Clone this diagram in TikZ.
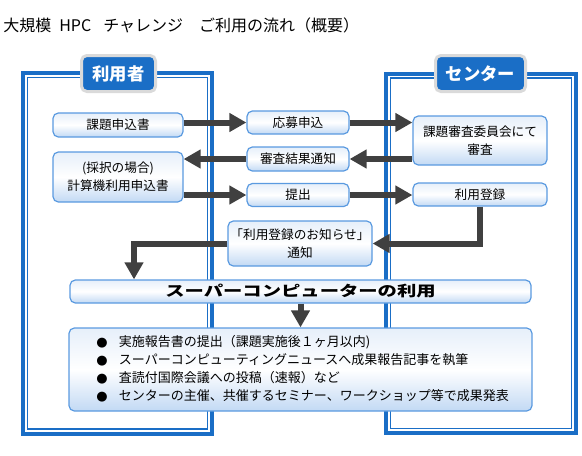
\documentclass[tikz,border=0pt]{standalone}
\usepackage{fontspec}
\usepackage{graphicx}
\setmainfont{Noto Sans CJK JP}
\newfontfamily\dejavu{DejaVu Sans}
\usetikzlibrary{arrows.meta,shadows,calc}
\definecolor{frameblue}{HTML}{1A6EC6}
\definecolor{boxline}{HTML}{5A9AE0}
\definecolor{boxlight}{HTML}{E6EFFA}
\definecolor{boxdark}{HTML}{C2D9F4}
\definecolor{arrowgray}{HTML}{404040}
\definecolor{labborder}{HTML}{DADADA}
\begin{document}
\begin{tikzpicture}[x=0.75pt,y=-0.75pt,
  fbox/.style={draw=boxline, line width=0.9pt, rounded corners=4pt,
    top color=boxlight, bottom color=boxdark, middle color=white,
    inner sep=0pt, align=center, text=black,
    font=\fontsize{9.5pt}{13.5pt}\selectfont},
  labbox/.style={draw=labborder, line width=2.25pt, fill=frameblue, rounded corners=4pt,
    text=white, inner sep=0pt, minimum height=27pt,
    font=\bfseries\fontsize{13pt}{15pt}\selectfont,
    drop shadow={shadow xshift=0.8pt, shadow yshift=-0.8pt, opacity=0.35}},
  outerframe/.style={draw=frameblue, line width=3pt},
  innerframe/.style={draw=frameblue, line width=1pt},
  arr/.style={draw=arrowgray, line width=4.5pt, line join=miter,
    -{Triangle[length=12.75pt,width=13.5pt]}}
]
\useasboundingbox (0,0) rectangle (582,455);

% title
\node[anchor=west, inner sep=0pt, font=\fontsize{12pt}{14pt}\selectfont] (title) at (3,25)
  {大規模\hspace{6pt}HPC\hspace{9pt}チャレンジ　ご利用の流れ（概要）};

% frames
\draw[outerframe] (23,73) rectangle (212,433.5);
\draw[innerframe] (27.5,77.5) rectangle (207.5,429);
\draw[outerframe] (386,73.5) rectangle (576,433);
\draw[innerframe] (390.5,78) rectangle (571.5,428.5);

% labels
\node[labbox, minimum width=55.5pt] (user) at (118.5,73.5) {利用者};
\node[labbox, minimum width=67.5pt] (center) at (480.5,73.5) {センター};

% boxes
\node[fbox, minimum width=97.5pt, minimum height=18pt] (t1) at (118,125) {課題申込書};
\node[fbox, minimum width=76.5pt, minimum height=17.25pt] (a1) at (298,122.5) {応募申込};
\node[fbox, minimum width=100.5pt, minimum height=36.75pt] (s1) at (480,140.5) {課題審査委員会にて\\審査};
\node[fbox, minimum width=76.5pt, minimum height=18pt] (a2) at (298,159) {審査結果通知};
\node[fbox, minimum width=97.5pt, minimum height=37.5pt] (t2) at (118,177) {(採択の場合)\\計算機利用申込書};
\node[fbox, minimum width=76.5pt, minimum height=17.25pt] (a3) at (298,195) {提出};
\node[fbox, minimum width=100.5pt, minimum height=17.25pt] (s2) at (480,194.5) {利用登録};
\node[fbox, minimum width=108pt, minimum height=33.75pt] (n) at (300,243.5) {「利用登録のお知らせ」\\通知};
\node[fbox, minimum width=345.75pt, minimum height=17.25pt] (sp) at (300.5,291.5)
  {\scalebox{1.33}[1]{\bfseries\fontsize{10.9pt}{12pt}\selectfont スーパーコンピューターの利用}};
\node[fbox, minimum width=347.25pt, minimum height=62.25pt] (list) at (300.5,369.5) {};
\node[anchor=west, inner sep=0pt, align=left, font=\fontsize{9.75pt}{13.5pt}\selectfont] (items) at (96,370)
  {\begin{tabular}{@{}l@{\hspace{8.5pt}}l@{}}
   {\dejavu ●} & 実施報告書の提出（課題実施後１ヶ月以内)\\
   {\dejavu ●} & スーパーコンピューティングニュースへ成果報告記事を執筆\\
   {\dejavu ●} & 査読付国際会議への投稿（速報）など\\
   {\dejavu ●} & センターの主催、共催するセミナー、ワークショップ等で成果発表
   \end{tabular}};

% arrows
\coordinate (k) at (134,0);
\draw[arr] (t1.east |- a1.west) -- (a1.west);
\draw[arr] (a1.east) -- (a1.east -| s1.west);
\draw[arr] (s1.west |- a2.east) -- (a2.east);
\draw[arr] (a2.west) -- (a2.west -| t2.east);
\draw[arr] (t2.east |- a3.west) -- (a3.west);
\draw[arr] (a3.east) -- (a3.east -| s2.west);
\draw[arr] (s2.south) |- (n.east);
\draw[arr] (n.west) -| (k |- sp.north);
\draw[arr] (sp.south) -- (list.north);
\end{tikzpicture}
\end{document}
